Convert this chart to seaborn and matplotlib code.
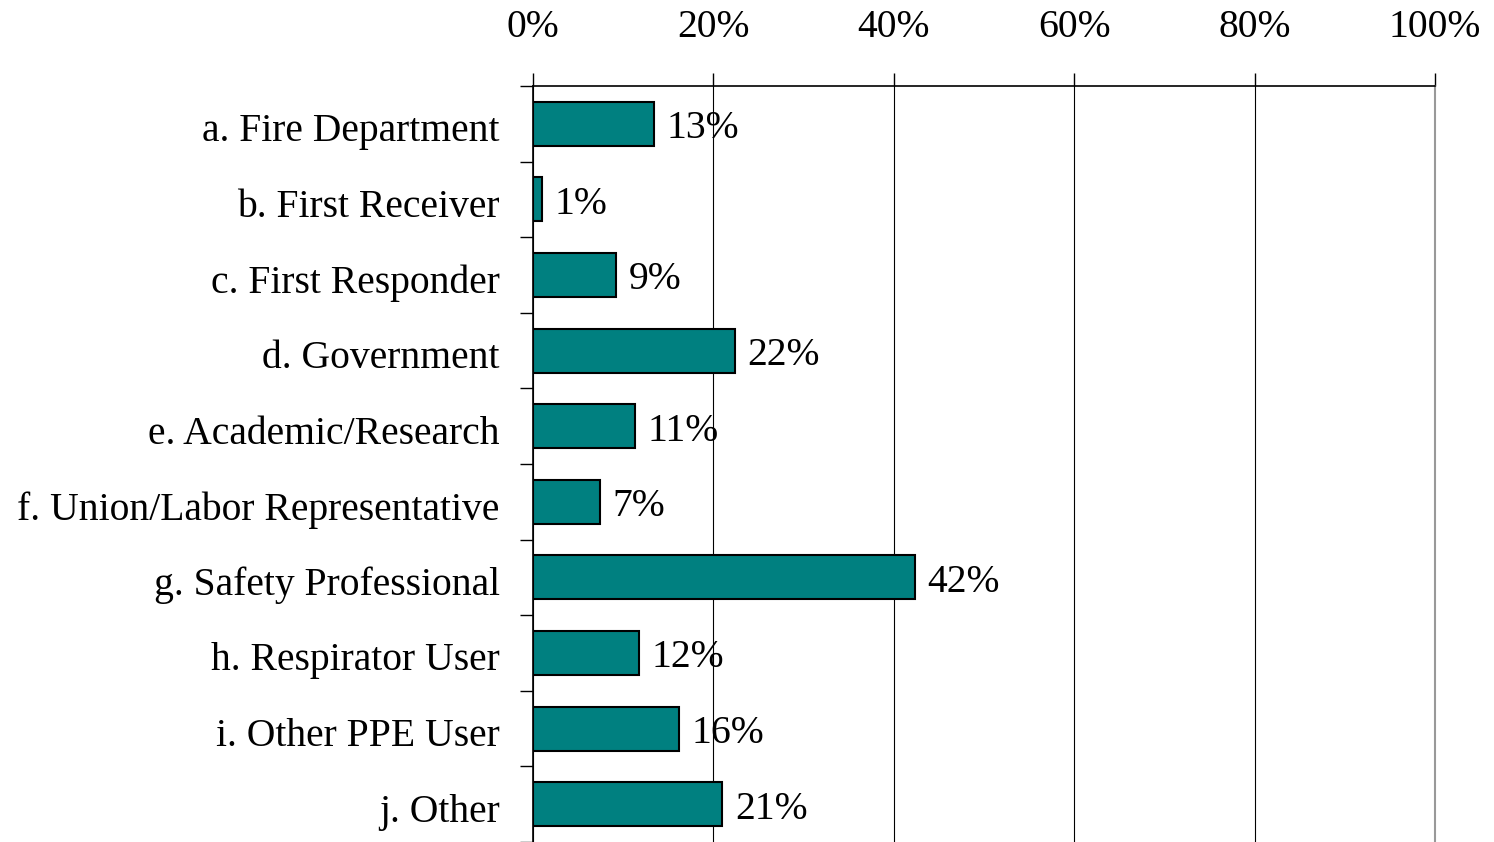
import matplotlib
matplotlib.use("Agg")
import matplotlib.pyplot as plt
import matplotlib.transforms as mtransforms
import seaborn as sns
import pandas as pd
from matplotlib.ticker import FixedLocator, PercentFormatter

# Datos
categorias = ["a. Fire Department", "b. First Receiver", "c. First Responder",
              "d. Government", "e. Academic/Research", "f. Union/Labor Representative",
              "g. Safety Professional", "h. Respirator User", "i. Other PPE User", "j. Other"]
valores = [13.4, 1.0, 9.2, 22.4, 11.3, 7.4, 42.3, 11.8, 16.2, 21.0]

df = pd.DataFrame({"categoria": categorias, "valor": valores})

sns.set_style("white")
plt.rcParams['font.family'] = ['Liberation Serif', 'DejaVu Serif']
plt.rcParams['text.color'] = 'black'
plt.rcParams['xtick.color'] = 'black'
plt.rcParams['ytick.color'] = 'black'

fig = plt.figure(figsize=(14.94, 8.42), dpi=100)
ax = fig.add_axes([533/1494, 0.0, (1435-533)/1494, 1-86/842])

sns.barplot(data=df, x="valor", y="categoria", orient="h", color="#008080",
            saturation=1, width=0.58, edgecolor="black", linewidth=1.5, ax=ax, zorder=3)

ax.set_xlim(0, 100)
ax.set_ylim(len(categorias) - 0.5, -0.5)
ax.set_xlabel("")
ax.set_ylabel("")

# Eje X arriba
ax.xaxis.tick_top()
ax.set_xticks([0, 20, 40, 60, 80, 100])
ax.xaxis.set_major_formatter(PercentFormatter(decimals=0))
ax.tick_params(axis="x", which="major", length=9.5, width=1, color="black",
               labelsize=28.5, labelcolor="black", pad=19, direction="out")

# Eje Y: ticks entre categorias
ax.yaxis.set_minor_locator(FixedLocator([i + 0.5 for i in range(-1, len(categorias))]))
ax.tick_params(axis="y", which="major", length=0, labelsize=28.5, labelcolor="black", pad=24)
ax.tick_params(axis="y", which="minor", length=9.5, width=1, color="black", left=True)

# bajar un poco las etiquetas de categoria
desplazamiento = mtransforms.ScaledTranslation(0, -2.5/72, fig.dpi_scale_trans)
for lbl in ax.get_yticklabels():
    lbl.set_transform(lbl.get_transform() + desplazamiento)

ax.grid(axis="x", color="black", linewidth=0.8, zorder=0)
ax.grid(axis="y", visible=False)

for lado in ["top", "left"]:
    ax.spines[lado].set_visible(True)
    ax.spines[lado].set_color("black")
    ax.spines[lado].set_linewidth(1.2)
ax.spines["right"].set_visible(True)
ax.spines["right"].set_color("#999999")
ax.spines["right"].set_linewidth(1.5)
ax.spines["bottom"].set_visible(False)

# Etiquetas de valor
for i, v in enumerate(valores):
    ax.annotate(f"{v:.0f}%", xy=(v, i), xytext=(9, -3.5), textcoords="offset points",
                va="center", ha="left", fontsize=28.5, color="black", zorder=4)

fig.savefig("out.png", dpi=100)
